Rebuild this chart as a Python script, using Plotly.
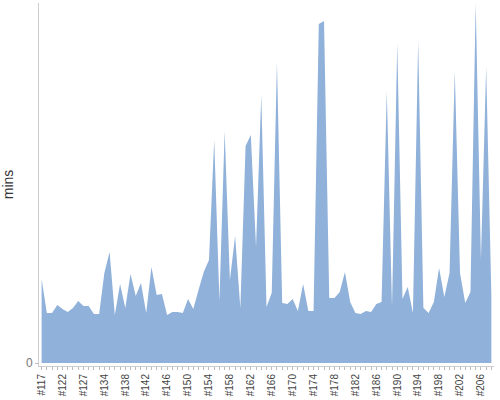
import plotly.graph_objs as go


# build numbers (some early ones are missing from the run)
builds = [117, 118, 119, 121, 122, 123, 124, 126, 127, 129, 131, 133] + list(range(134, 209))
labels = ['#%d' % b for b in builds]

mins = [84, 50, 50, 58, 54, 51, 55, 62, 57, 57,
        49, 49, 90, 111, 48, 79, 55, 89, 67, 80,
        50, 96, 68, 69, 48, 51, 51, 50, 64, 54,
        73, 91, 103, 223, 62, 232, 83, 127, 55, 217,
        228, 116, 268, 56, 70, 301, 60, 59, 64, 52,
        79, 52, 52, 339, 342, 65, 65, 71, 91, 61,
        50, 49, 52, 51, 59, 61, 272, 56, 320, 64,
        76, 50, 322, 55, 50, 61, 95, 66, 90, 292,
        90, 60, 71, 360, 103, 296, 66]

idx = list(range(len(builds)))

trace = go.Scatter(
    x=idx,
    y=mins,
    mode='lines',
    fill='tozeroy',
    fillcolor='#8fb1da',
    line=dict(color='#8fb1da', width=0),
    hoverinfo='text',
    text=labels,
    showlegend=False,
    )

layout = go.Layout(
    width=500,
    height=400,
    margin=dict(l=39, r=6, t=3, b=34),
    paper_bgcolor='white',
    plot_bgcolor='white',
    font=dict(family='Liberation Sans, Arial, sans-serif', color='#444'),
    xaxis=dict(
        automargin=False,
        range=[-0.5, len(builds) - 0.5],
        tickmode='array',
        tickvals=idx[::4],
        ticktext=labels[::4],
        tickangle=-90,
        tickfont=dict(size=10, color='#444'),
        ticks='outside',
        ticklen=3,
        tickcolor='#bbb',
        minor=dict(tick0=0, dtick=1, ticks='outside', ticklen=3, tickcolor='#bbb'),
        showline=True,
        linecolor='#ccc',
        showgrid=False,
        zeroline=False,
    ),
    yaxis=dict(
        automargin=False,
        title=dict(text='mins', font=dict(size=14, color='#333'), standoff=12),
        range=[-3, 360],
        tickmode='array',
        tickvals=[0],
        ticktext=['0'],
        tickfont=dict(size=12, color='#777'),
        ticks='outside',
        ticklen=3,
        tickcolor='#bbb',
        showline=True,
        linecolor='#ccc',
        showgrid=False,
        zeroline=False,
    ),
)

fig = go.Figure(data=[trace], layout=layout)

# page body has a default 8px margin; drop it so the 500x400 figure fits the window
fig.write_html("out.html", config={'displayModeBar': False},
               post_script="document.body.style.margin='0';")
